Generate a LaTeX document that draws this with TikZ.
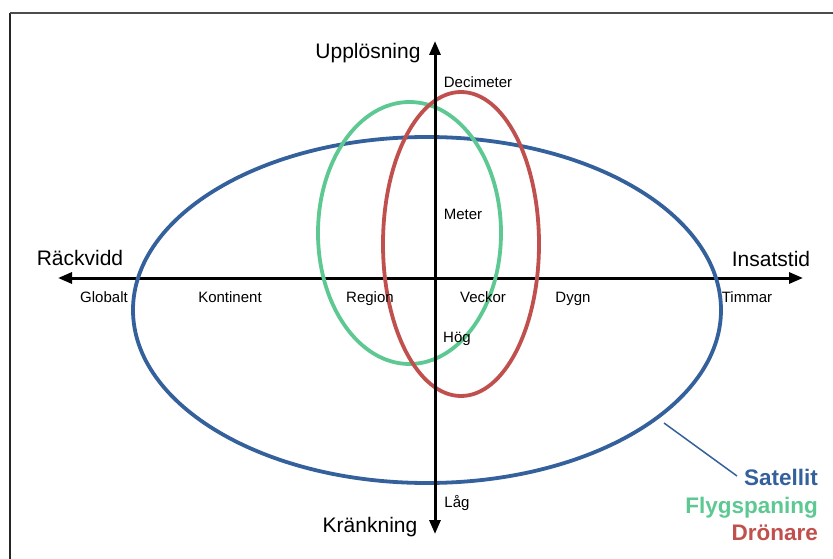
\documentclass[tikz,border=0pt]{standalone}
\usepackage{fontspec}
\setmainfont{Liberation Sans}
\usetikzlibrary{arrows.meta,shapes.geometric}
\definecolor{satblue}{RGB}{52,96,156}
\definecolor{flygreen}{RGB}{94,200,146}
\definecolor{dronred}{RGB}{192,80,77}
\begin{document}
\begin{tikzpicture}[x=1pt,y=-1pt,
  axis/.style={line width=3pt,-{Triangle[length=14pt,width=11pt]}},
  ell/.style={ellipse,draw,line width=3.8pt,inner sep=0pt,fill=none},
  biglab/.style={anchor=base,font=\fontsize{21}{25}\selectfont,inner sep=0pt},
  smalllab/.style={anchor=base,font=\fontsize{15}{18}\selectfont,inner sep=0pt},
  leglab/.style={anchor=base east,font=\fontsize{22.5}{26}\selectfont\bfseries,inner sep=0pt}]
\useasboundingbox (0,0) rectangle (833,559);
% frame
\coordinate (fbl) at (10,559);
\coordinate (ftl) at (10,13);
\coordinate (ftr) at (833,13);
\draw[line width=2pt,black!85] (fbl) -- (ftl);
\draw[line width=2pt,black!70] (ftl) -- (ftr);
% axes
\coordinate (O) at (435,278);
\coordinate (L) at (58,278);
\coordinate (R) at (803,278);
\coordinate (T) at (435,41);
\coordinate (B) at (435,534);
\draw[axis] (O) -- (L);
\draw[axis] (O) -- (R);
% ellipses
\node[ell,draw=satblue,minimum width=588pt,minimum height=346pt] (sat) at (427,310) {};
\node[ell,draw=flygreen,minimum width=183pt,minimum height=262pt] (fly) at (409.5,233) {};
\node[ell,draw=dronred,minimum width=156pt,minimum height=304pt] (dron) at (461,244) {};
\draw[axis] (O) -- (T);
\draw[axis] (O) -- (B);
% axis labels
\node[biglab] (upp) at (368,59) {Upplösning};
\node[biglab] (kran) at (370,532) {Kränkning};
\node[biglab] (rack) at (80,265) {Räckvidd};
\node[biglab] (ins) at (771,266) {Insatstid};
% scale labels
\node[smalllab] (dec) at (478,87.5) {Decimeter};
\node[smalllab] (met) at (463,219) {Meter};
\node[smalllab] (hog) at (457,342.5) {Hög};
\node[smalllab] (lag) at (457,507.5) {Låg};
\node[smalllab] (glob) at (104,302.5) {Globalt};
\node[smalllab] (kont) at (230,302.5) {Kontinent};
\node[smalllab] (reg) at (370,302.5) {Region};
\node[smalllab] (veck) at (483,302.5) {Veckor};
\node[smalllab] (dygn) at (573,302.5) {Dygn};
\node[smalllab] (timm) at (747,302.5) {Timmar};
% legend
\node[leglab,text=satblue] (lsat) at (818,485) {Satellit};
\node[leglab,text=flygreen] (lfly) at (818,513) {Flygspaning};
\node[leglab,text=dronred] (ldron) at (818,540.5) {Drönare};
\coordinate (lead) at (664,423);
\coordinate (leadend) at (737,476);
\draw[satblue,line width=1.5pt] (lead) -- (leadend);
\end{tikzpicture}
\end{document}
